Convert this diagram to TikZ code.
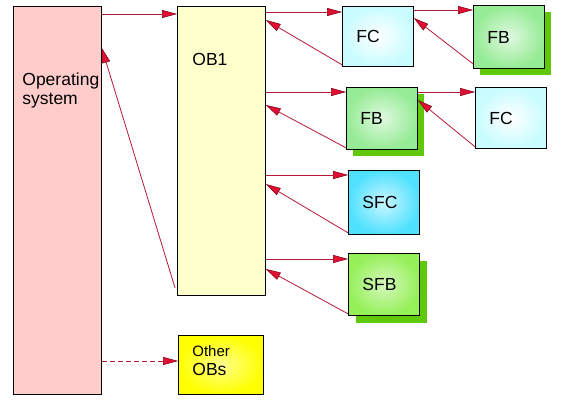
\documentclass[tikz,border=0pt]{standalone}
\usepackage{fontspec}
\setmainfont{Liberation Sans}
\usetikzlibrary{arrows.meta, shadows}

\definecolor{syspink}{RGB}{255,204,204}
\definecolor{obyellow}{RGB}{255,255,204}
\definecolor{otheryellow}{RGB}{255,255,0}
\definecolor{fccyan}{RGB}{200,252,255}
\definecolor{sfccyan}{RGB}{80,225,255}
\definecolor{fbgreen}{RGB}{150,235,150}
\definecolor{sfbgreen}{RGB}{150,240,90}
\definecolor{shadegreen}{RGB}{95,200,10}
\definecolor{callred}{RGB}{180,25,55}
\definecolor{tipfill}{RGB}{225,15,50}
\definecolor{tipred}{RGB}{120,0,20}

\begin{document}
\begin{tikzpicture}[x=1pt, y=-1pt, line width=0.8pt, font=\fontsize{17.5}{19}\selectfont,
    box node/.style={draw, anchor=north west, inner sep=0pt},
    block node/.style={draw, anchor=north west, align=left, text width=43pt, inner xsep=14pt, inner ysep=0pt, text height=12.5pt, text depth=0pt},
    fc node/.style={block node, inner color=white, outer color=fccyan},
    sfc node/.style={block node, inner color=sfccyan!30, outer color=sfccyan},
    fb node/.style={block node, inner color=fbgreen!30, outer color=fbgreen, drop shadow={shadow xshift=7pt, shadow yshift=-7pt, fill=shadegreen, opacity=1}},
    sfb node/.style={block node, inner color=sfbgreen!40, outer color=sfbgreen, drop shadow={shadow xshift=8pt, shadow yshift=-8pt, fill=shadegreen, opacity=1}},
    text node/.style={anchor=north west, inner sep=0pt, align=left},
    call edge/.style={draw=callred, -{Triangle[length=15pt, width=8pt, line width=0.5pt, color=tipred, fill=tipfill]}},
    back edge/.style={call edge}]
\useasboundingbox (0,0) rectangle (568,404);

% calling levels
\node[box node, fill=syspink, minimum width=88pt, minimum height=388pt] (sys) at (13,6) {};
\node[box node, fill=obyellow, minimum width=88pt, minimum height=289pt] (ob1) at (177,6) {};
\node[box node, inner color=otheryellow!45, outer color=otheryellow, minimum width=85pt, minimum height=59pt] (other) at (178,335) {};
\node[text node] (systext) at ([xshift=9pt, yshift=-66pt]sys.north west) {Operating\\system};
\node[text node] (obtext) at ([xshift=15pt, yshift=-47pt]ob1.north west) {OB1};
\node[text node] (othertext) at ([xshift=14pt, yshift=-10pt]other.north west) {{\fontsize{15}{20}\selectfont Other}\\OBs};

% blocks
\node[fc node, minimum height=60pt] (fc1) at (342,6) {FC};
\node[fb node, minimum height=63pt] (fb1) at (473,5) {FB};
\node[fb node, minimum height=62pt] (fb2) at (346,87) {FB};
\node[fc node, minimum height=61pt] (fc2) at (475,87) {FC};
\node[sfc node, minimum height=64pt] (sfc) at (348,170) {SFC};
\node[sfb node, minimum height=62pt] (sfb) at (348,253) {SFB};

% calls
\draw[call edge] ([yshift=-8pt]ob1.north west -| sys.east) -- ([yshift=-8pt]ob1.north west);
\draw[call edge] ([yshift=-6pt]fc1.north west -| ob1.east) -- ([yshift=-6pt]fc1.north west);
\draw[call edge] ([yshift=-5pt]fb1.north west -| fc1.east) -- ([yshift=-5pt]fb1.north west);
\draw[call edge] ([yshift=-5pt]fb2.north west -| ob1.east) -- ([yshift=-5pt]fb2.north west);
\draw[call edge] ([yshift=-5pt]fc2.north west -| fb2.east) -- ([yshift=-5pt]fc2.north west);
\draw[call edge] ([yshift=-5pt]sfc.north west -| ob1.east) -- ([yshift=-5pt]sfc.north west);
\draw[call edge] ([yshift=-6pt]sfb.north west -| ob1.east) -- ([yshift=-6pt]sfb.north west);
\draw[call edge, dash pattern=on 5pt off 3pt] ([yshift=-26pt]other.north west -| sys.east) -- ([yshift=-26pt]other.north west);

% returns
\draw[back edge] ([yshift=2pt]fc1.south west) -- ([yshift=-14pt]fc1.north west -| ob1.east);
\draw[back edge] ([yshift=5pt]fb1.south west) -- ([yshift=-12pt]fc1.north east);
\draw[back edge] ([yshift=2pt]fb2.south west) -- ([yshift=-18pt]fb2.north west -| ob1.east);
\draw[back edge] ([yshift=2pt]fc2.south west) -- ([yshift=-13pt]fb2.north east);
\draw[back edge] ([yshift=2pt]sfc.south west) -- ([yshift=-14pt]sfc.north west -| ob1.east);
\draw[back edge] ([yshift=2pt]sfb.south west) -- ([yshift=-16pt]sfb.north west -| ob1.east);
\draw[back edge] ([xshift=-2pt, yshift=8pt]ob1.south west) -- ([yshift=-42pt]sys.north east);
\end{tikzpicture}
\end{document}
